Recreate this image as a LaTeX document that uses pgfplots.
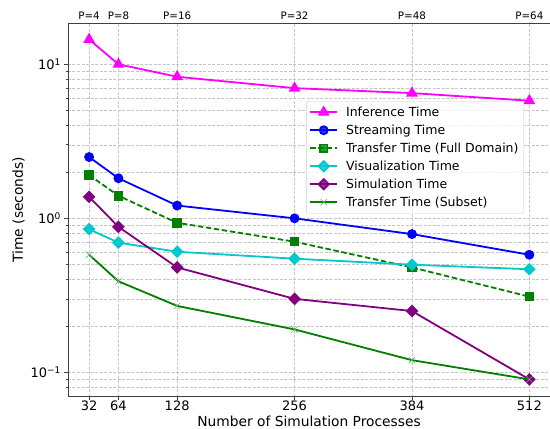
\documentclass[border=0pt]{standalone}
\usepackage{fontspec}
\setmainfont{DejaVu Sans}
\usepackage{pgfplots}
\pgfplotsset{compat=1.18}
\definecolor{mplmagenta}{RGB}{255,0,255}
\definecolor{mplblue}{RGB}{0,0,255}
\definecolor{mplcyan}{RGB}{0,200,205}
\definecolor{mplgreen}{RGB}{0,128,0}
\definecolor{mplpurple}{RGB}{128,0,128}
\begin{document}
\begin{tikzpicture}
\begin{axis}[
  scale only axis,
  clip mode=individual,
  width=482pt, height=373.5pt,
  ymode=log,
  xmin=9, xmax=534.5,
  ymin=0.0697, ymax=18.54,
  xtick={32,64,128,256,384,512},
  ytick={0.1,1,10},
  yticklabels={10\textsuperscript{−1},10\textsuperscript{0},10\textsuperscript{1}},
  minor ytick={0.08,0.09,0.2,0.3,0.4,0.5,0.6,0.7,0.8,0.9,2,3,4,5,6,7,8,9},
  /pgf/number format/assume math mode=true,
  tick pos=left,
  tick align=outside,
  major tick length=3.5pt,
  minor tick length=2pt,
  tick style={black!75, line width=0.7pt},
  axis line style={black!75, line width=0.8pt},
  xmajorgrids, ymajorgrids, yminorgrids,
  grid style={gray!45, line width=0.6pt, dash pattern=on 3pt off 1.5pt},
  minor grid style={gray!45, line width=0.6pt, dash pattern=on 3pt off 1.5pt},
  ticklabel style={font=\fontsize{13}{15}\selectfont},
  xticklabel style={text depth=0pt, text height=9.5pt, inner ysep=0.5pt, yshift=-0.5pt},
  xlabel={Number of Simulation Processes},
  ylabel={Time (seconds)},
  label style={font=\fontsize{13.8}{16}\selectfont},
  xlabel style={at={(axis description cs:0.5,0)}, anchor=base, yshift=-29.5pt, inner sep=0pt, text depth=0pt},
  ylabel style={yshift=-1pt},
  legend cell align=left,
  legend style={at={(0.494,0.791)}, anchor=north west,
    font=\fontsize{12.5}{14}\selectfont,
    draw=black!20, rounded corners=2pt, fill=white, fill opacity=0.8, text opacity=1,
    inner xsep=3pt, inner ysep=3.5pt, row sep=3pt,
    /tikz/every odd column/.append style={column sep=6pt}},
  legend image code/.code={\draw[mark repeat=2,mark phase=2] plot coordinates {(0pt,0pt)(13.5pt,0pt)(27pt,0pt)};},
]
\addplot[mplmagenta, line width=1.8pt, mark=triangle*, mark size=5pt, mark options={solid}] coordinates {(32,14.5)(64,10.0)(128,8.3)(256,7.0)(384,6.5)(512,5.8)};
\addlegendentry{Inference Time}
\addplot[mplblue, line width=1.8pt, mark=*, mark size=4pt, mark options={solid}] coordinates {(32,2.5)(64,1.82)(128,1.21)(256,1.0)(384,0.79)(512,0.58)};
\addlegendentry{Streaming Time}
\addplot[mplgreen, line width=1.8pt, dash pattern=on 5.5pt off 2.6pt, mark=square*, mark size=3.8pt, mark options={solid}] coordinates {(32,1.91)(64,1.40)(128,0.935)(256,0.705)(384,0.48)(512,0.31)};
\addlegendentry{Transfer Time (Full Domain)}
\addplot[mplcyan, line width=1.8pt, mark=square*, mark size=3.6pt, mark options={solid, rotate=45}] coordinates {(32,0.85)(64,0.695)(128,0.607)(256,0.547)(384,0.50)(512,0.467)};
\addlegendentry{Visualization Time}
\addplot[mplpurple, line width=1.8pt, mark=square*, mark size=3.6pt, mark options={solid, rotate=45}] coordinates {(32,1.38)(64,0.88)(128,0.48)(256,0.30)(384,0.25)(512,0.09)};
\addlegendentry{Simulation Time}
\addplot[mplgreen, line width=1.8pt, mark=x, mark size=4.5pt, mark options={solid, line width=0.6pt, draw=mplgreen!60}] coordinates {(32,0.58)(64,0.39)(128,0.27)(256,0.19)(384,0.12)(512,0.09)};
\addlegendentry{Transfer Time (Subset)}
\node[anchor=base, font=\fontsize{10.3}{12}\selectfont, yshift=3pt] at (axis cs:32,18.54) {P=4};
\node[anchor=base, font=\fontsize{10.3}{12}\selectfont, yshift=3pt] at (axis cs:64,18.54) {P=8};
\node[anchor=base, font=\fontsize{10.3}{12}\selectfont, yshift=3pt] at (axis cs:128,18.54) {P=16};
\node[anchor=base, font=\fontsize{10.3}{12}\selectfont, yshift=3pt] at (axis cs:256,18.54) {P=32};
\node[anchor=base, font=\fontsize{10.3}{12}\selectfont, yshift=3pt] at (axis cs:384,18.54) {P=48};
\node[anchor=base, font=\fontsize{10.3}{12}\selectfont, yshift=3pt] at (axis cs:512,18.54) {P=64};
\end{axis}
\pgfresetboundingbox
\path[use as bounding box] ([xshift=-68pt,yshift=-31.5pt]current axis.south west) rectangle ([yshift=23pt]current axis.north east);
\end{tikzpicture}
\end{document}
